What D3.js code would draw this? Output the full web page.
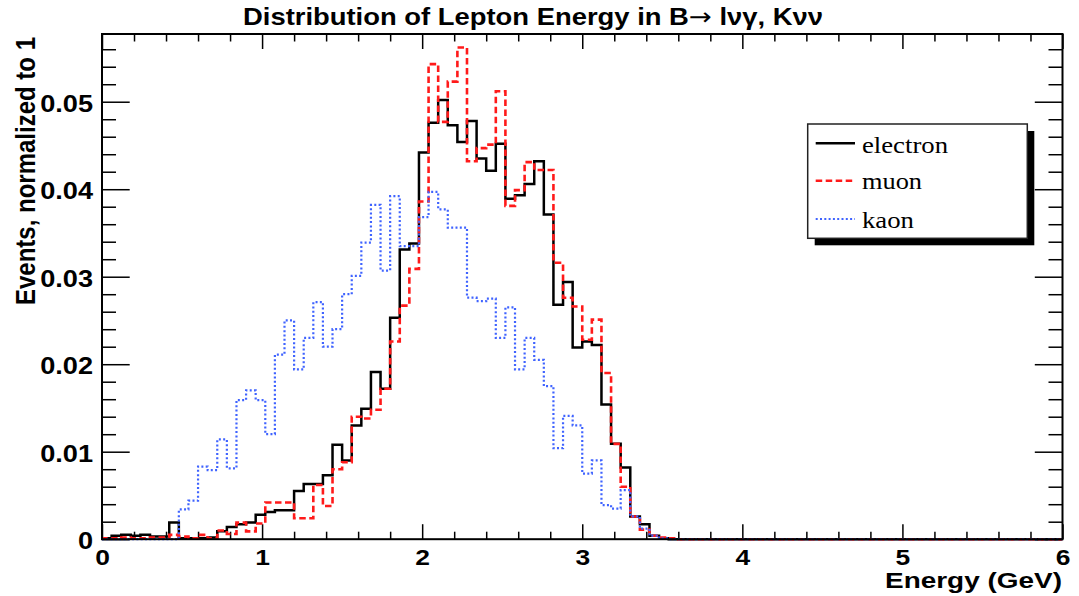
<!DOCTYPE html>
<html>
<head>
<meta charset="utf-8">
<script src="https://cdn.jsdelivr.net/npm/d3@7"></script>
<style>
  html, body { margin: 0; padding: 0; background: #ffffff; }
  svg { display: block; }
</style>
</head>
<body>
<svg id="chart" width="1079" height="596"></svg>
<script>
// ---- chart text ----
const titleParts = ["Distribution of Lepton Energy in B", "\u2192", " l\u03bd\u03b3, K\u03bd\u03bd"];
const xAxisTitle = "Energy (GeV)";
const yAxisTitle = "Events, normalized to 1";
const xTickValues = [0, 1, 2, 3, 4, 5, 6];
const xTickLabels = ["0", "1", "2", "3", "4", "5", "6"];
const yTickValues = [0, 0.01, 0.02, 0.03, 0.04, 0.05];
const yTickLabels = ["0", "0.01", "0.02", "0.03", "0.04", "0.05"];
const seriesNames = ["electron", "muon", "kaon"];

// ---- histogram binning: 100 bins from 0 to 6 GeV ----
const binLow = 0;
const binHigh = 6;
const nBins = 100;

// ---- bin contents (normalized to 1) ----
const electron = [
  0.0001, 0.0004, 0.0005, 0.0004, 0.0005, 0.0003, 0.0003, 0.0019, 0.0001, 0.0001,
  0.0001, 0.0002, 0.0009, 0.0014, 0.0017, 0.0019, 0.0028, 0.0031, 0.0033, 0.0033,
  0.0055, 0.0063, 0.0063, 0.0073, 0.0108, 0.0090, 0.0130, 0.0149, 0.0191, 0.0172,
  0.0253, 0.0331, 0.0338, 0.0442, 0.0476, 0.0502, 0.0473, 0.0454, 0.0478, 0.0435,
  0.0421, 0.0452, 0.0389, 0.0393, 0.0406, 0.0432, 0.0371, 0.0268, 0.0294, 0.0219,
  0.0226, 0.0222, 0.0154, 0.0109, 0.0082, 0.0026, 0.0017, 0.0004, 0.0001, 0.0000,
  0, 0, 0, 0, 0, 0, 0, 0, 0, 0,
  0, 0, 0, 0, 0, 0, 0, 0, 0, 0,
  0, 0, 0, 0, 0, 0, 0, 0, 0, 0,
  0, 0, 0, 0, 0, 0, 0, 0, 0, 0
];
const muon = [
  0.0001, 0.0001, 0.0002, 0.0001, 0.0001, 0.0002, 0.0002, 0.0005, 0.0003, 0.0001,
  0.0005, 0.0001, 0.0010, 0.0006, 0.0019, 0.0009, 0.0018, 0.0042, 0.0042, 0.0042,
  0.0024, 0.0024, 0.0062, 0.0038, 0.0080, 0.0088, 0.0140, 0.0138, 0.0148, 0.0172,
  0.0226, 0.0267, 0.0309, 0.0386, 0.0543, 0.0477, 0.0523, 0.0562, 0.0432, 0.0447,
  0.0451, 0.0512, 0.0381, 0.0399, 0.0431, 0.0422, 0.0422, 0.0316, 0.0276, 0.0266,
  0.0228, 0.0251, 0.0190, 0.0109, 0.0060, 0.0026, 0.0011, 0.0004, 0.0002, 0.0001,
  0, 0, 0, 0, 0, 0, 0, 0, 0, 0,
  0, 0, 0, 0, 0, 0, 0, 0, 0, 0,
  0, 0, 0, 0, 0, 0, 0, 0, 0, 0,
  0, 0, 0, 0, 0, 0, 0, 0, 0, 0
];
const kaon = [
  0.0000, 0.0000, 0.0000, 0.0000, 0.0000, 0.0000, 0.0000, 0.0000, 0.0034, 0.0044,
  0.0083, 0.0079, 0.0114, 0.0081, 0.0159, 0.0170, 0.0159, 0.0120, 0.0211, 0.0250,
  0.0194, 0.0230, 0.0271, 0.0220, 0.0240, 0.0280, 0.0301, 0.0339, 0.0382, 0.0307,
  0.0392, 0.0335, 0.0335, 0.0368, 0.0397, 0.0377, 0.0356, 0.0356, 0.0276, 0.0272,
  0.0275, 0.0230, 0.0265, 0.0194, 0.0230, 0.0205, 0.0175, 0.0104, 0.0141, 0.0130,
  0.0075, 0.0090, 0.0039, 0.0035, 0.0056, 0.0026, 0.0012, 0.0004, 0.0001, 0.0000,
  0, 0, 0, 0, 0, 0, 0, 0, 0, 0,
  0, 0, 0, 0, 0, 0, 0, 0, 0, 0,
  0, 0, 0, 0, 0, 0, 0, 0, 0, 0,
  0, 0, 0, 0, 0, 0, 0, 0, 0, 0
];

// ---- layout ----
const frame = { left: 102, right: 1062.5, top: 34, bottom: 539.2 };
const yMax = 0.05774;
const sansFont = "'Liberation Sans', Arial, Helvetica, sans-serif";
const serifFont = "'Liberation Serif', 'Times New Roman', Times, serif";

const svg = d3.select("#chart");

const x = d3.scaleLinear().domain([binLow, binHigh]).range([frame.left, frame.right]);
const y = d3.scaleLinear().domain([0, yMax]).range([frame.bottom, frame.top]);

// minor tick positions
const xMinor = d3.range(binLow, binHigh + 1e-9, 0.2).filter(v => Math.abs(v - Math.round(v)) > 1e-6);
const yMinor = d3.range(0, yMax, 0.002).filter(v => Math.abs(v * 100 - Math.round(v * 100)) > 1e-6);

const axes = svg.append("g").attr("class", "axes");

function styleTicks(g) {
  g.select(".domain").remove();
  g.selectAll(".tick line").attr("stroke", "#000").attr("stroke-width", 1.5);
}

// bottom axis: major + minor ticks pointing inward, labels below
axes.append("g")
  .attr("transform", `translate(0,${frame.bottom})`)
  .call(d3.axisBottom(x).tickValues(xMinor).tickSize(-7.5).tickSizeOuter(0).tickFormat(""))
  .call(styleTicks);
const xAxisG = axes.append("g")
  .attr("transform", `translate(0,${frame.bottom})`)
  .call(d3.axisBottom(x).tickValues(xTickValues).tickSize(-15).tickSizeOuter(0)
    .tickFormat((d, i) => xTickLabels[i]))
  .call(styleTicks);
xAxisG.selectAll(".tick text")
  .attr("y", 25.5).attr("dy", null)
  .attr("transform", "scale(1.2,1)")
  .style("font-family", sansFont).style("font-weight", "bold").style("font-size", "22px")
  .attr("fill", "#000");

// top axis: ticks only
axes.append("g")
  .attr("transform", `translate(0,${frame.top})`)
  .call(d3.axisTop(x).tickValues(xMinor).tickSize(-7.5).tickSizeOuter(0).tickFormat(""))
  .call(styleTicks);
axes.append("g")
  .attr("transform", `translate(0,${frame.top})`)
  .call(d3.axisTop(x).tickValues(xTickValues).tickSize(-15).tickSizeOuter(0).tickFormat(""))
  .call(styleTicks);

// left axis: major + minor ticks pointing inward, labels left
axes.append("g")
  .attr("transform", `translate(${frame.left},0)`)
  .call(d3.axisLeft(y).tickValues(yMinor).tickSize(-14).tickSizeOuter(0).tickFormat(""))
  .call(styleTicks);
const yAxisG = axes.append("g")
  .attr("transform", `translate(${frame.left},0)`)
  .call(d3.axisLeft(y).tickValues(yTickValues).tickSize(-27.7).tickSizeOuter(0)
    .tickFormat((d, i) => yTickLabels[i]))
  .call(styleTicks);
yAxisG.selectAll(".tick text")
  .attr("x", -7.6).attr("dy", "0.42em")
  .attr("transform", "scale(1.18,1)")
  .style("font-family", sansFont).style("font-weight", "bold").style("font-size", "23px")
  .attr("fill", "#000");

// right axis: ticks only
axes.append("g")
  .attr("transform", `translate(${frame.right},0)`)
  .call(d3.axisRight(y).tickValues(yMinor).tickSize(-14).tickSizeOuter(0).tickFormat(""))
  .call(styleTicks);
axes.append("g")
  .attr("transform", `translate(${frame.right},0)`)
  .call(d3.axisRight(y).tickValues(yTickValues).tickSize(-27.7).tickSizeOuter(0).tickFormat(""))
  .call(styleTicks);

// ---- histograms ----
const binWidth = (binHigh - binLow) / nBins;
function stepPoints(values) {
  const pts = [[binLow, 0]];
  values.forEach((v, i) => pts.push([binLow + i * binWidth, v]));
  pts.push([binHigh, values[values.length - 1]]);
  pts.push([binHigh, 0]);
  return pts;
}
const stepLine = d3.line()
  .x(d => x(d[0]))
  .y(d => y(d[1]))
  .curve(d3.curveStepAfter);

const styles = {
  electron: { color: "#000000", width: 2.5, dash: null },
  muon:     { color: "#ff1a1a", width: 2.6, dash: "6.5,3.5" },
  kaon:     { color: "#3f63ff", width: 2.2, dash: "2,2.3" }
};
const seriesData = { electron: electron, muon: muon, kaon: kaon };

svg.append("clipPath").attr("id", "plotClip")
  .append("rect")
  .attr("x", frame.left).attr("y", frame.top - 2)
  .attr("width", frame.right - frame.left).attr("height", frame.bottom - frame.top + 4);

const plot = svg.append("g").attr("clip-path", "url(#plotClip)");
seriesNames.forEach(name => {
  const s = styles[name];
  plot.append("path")
    .datum(stepPoints(seriesData[name]))
    .attr("d", stepLine)
    .attr("fill", "none")
    .attr("stroke", s.color)
    .attr("stroke-width", s.width)
    .attr("stroke-dasharray", s.dash)
    .attr("stroke-linejoin", "miter");
});

// frame
svg.append("rect")
  .attr("x", frame.left).attr("y", frame.top)
  .attr("width", frame.right - frame.left).attr("height", frame.bottom - frame.top)
  .attr("fill", "none").attr("stroke", "#000").attr("stroke-width", 2);

// ---- titles ----
const titleText = svg.append("text")
  .attr("x", 243).attr("y", 25)
  .attr("textLength", 580).attr("lengthAdjust", "spacingAndGlyphs")
  .style("font-family", sansFont).style("font-weight", "bold").style("font-size", "24px")
  .attr("fill", "#000");
titleText.append("tspan").text(titleParts[0]);
titleText.append("tspan").style("font-family", "'DejaVu Sans', sans-serif").style("font-weight", "normal").text(titleParts[1]);
titleText.append("tspan").text(titleParts[2]);

svg.append("text")
  .attr("x", 885).attr("y", 588)
  .attr("textLength", 177).attr("lengthAdjust", "spacingAndGlyphs")
  .style("font-family", sansFont).style("font-weight", "bold").style("font-size", "22px")
  .attr("fill", "#000")
  .text(xAxisTitle);

svg.append("text")
  .attr("transform", "translate(35,305) scale(1.3,1) rotate(-90)")
  .attr("x", 0).attr("y", 0)
  .attr("textLength", 268).attr("lengthAdjust", "spacingAndGlyphs")
  .style("font-family", sansFont).style("font-weight", "bold").style("font-size", "21.5px")
  .attr("fill", "#000")
  .text(yAxisTitle);

// ---- legend ----
const legend = { x: 807.7, y: 124, w: 219.6, h: 114.3, shadow: 7 };
const lg = svg.append("g");
lg.append("rect")
  .attr("x", legend.x + legend.shadow).attr("y", legend.y + legend.shadow)
  .attr("width", legend.w).attr("height", legend.h)
  .attr("fill", "#000");
lg.append("rect")
  .attr("x", legend.x).attr("y", legend.y)
  .attr("width", legend.w).attr("height", legend.h)
  .attr("fill", "#fff").attr("stroke", "#222").attr("stroke-width", 1.5);

const legendRows = [
  { name: "electron", lineY: 143.3, textY: 153.3, textW: 86 },
  { name: "muon",     lineY: 180.7, textY: 188.5, textW: 60 },
  { name: "kaon",     lineY: 219.0, textY: 228.3, textW: 52 }
];
legendRows.forEach(r => {
  const s = styles[r.name];
  lg.append("line")
    .attr("x1", 815.7).attr("x2", 855).attr("y1", r.lineY).attr("y2", r.lineY)
    .attr("stroke", s.color).attr("stroke-width", s.width)
    .attr("stroke-dasharray", s.dash);
  lg.append("text")
    .attr("x", 862).attr("y", r.textY)
    .attr("textLength", r.textW).attr("lengthAdjust", "spacingAndGlyphs")
    .style("font-family", serifFont).style("font-size", "23px")
    .attr("fill", "#000")
    .text(r.name);
});
</script>
</body>
</html>
